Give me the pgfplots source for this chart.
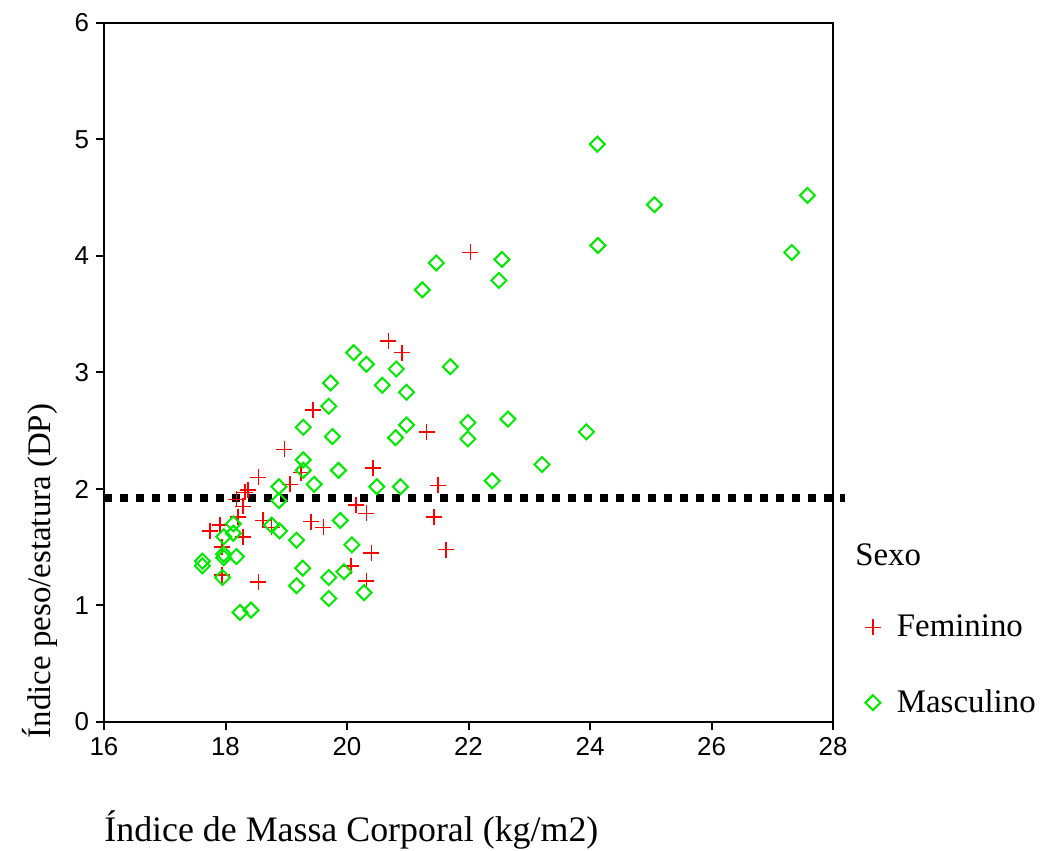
\documentclass[border=0pt]{standalone}
\usepackage{fontspec}
\setmainfont{Liberation Serif}
\newfontfamily\arial{Liberation Sans}
\usepackage{pgfplots}
\pgfplotsset{compat=1.18}
\definecolor{fem}{RGB}{255,0,0}
\definecolor{masc}{RGB}{0,235,0}

\begin{document}
\begin{tikzpicture}
\begin{axis}[
    scale only axis,
    width=364.5bp, height=349.5bp,
    xmin=16, xmax=28, ymin=0, ymax=6,
    xtick={16,18,...,28}, ytick={0,1,...,6},
    tick align=outside, tick pos=left,
    major tick length=4bp,
    axis line style={line width=1bp},
    tick style={line width=1bp, black},
    /pgf/number format/assume math mode=true,
    ticklabel style={font=\arial\fontsize{13}{15}\selectfont},
    xlabel={Índice de Massa Corporal (kg/m2)},
    ylabel={Índice peso/estatura (DP)},
    xlabel style={font=\fontsize{18}{21}\selectfont, at={(axis description cs:0,-0.155)}, anchor=west, inner sep=0pt},
    ylabel style={font=\fontsize{16.5}{20}\selectfont, at={(axis description cs:-0.088,-0.033)}, anchor=west},
    clip=false,
    legend style={draw=none, fill=none, font=\fontsize{16.5}{20}\selectfont,
        at={(axis description cs:1.035,0.081)}, anchor=west, row sep=21bp, column sep=6bp},
    legend cell align=left,
]
\addplot[only marks, mark=+, mark size=4bp, color=fem, line width=0.8bp] coordinates {
(19.44,2.68) (18.97,2.34) (20.43,2.18) (18.54,2.10) (19.24,2.14) (19.06,2.04)
(18.37,1.99) (18.32,1.97) (18.18,1.91) (18.29,1.85) (20.15,1.86) (20.32,1.79)
(18.21,1.76) (17.91,1.69) (17.74,1.64) (18.29,1.59) (18.62,1.73) (18.76,1.67)
(19.41,1.72) (19.61,1.67) (17.94,1.50) (20.40,1.45) (20.07,1.34) (20.32,1.21)
(17.94,1.26) (18.54,1.20) (20.68,3.27) (20.91,3.17) (21.31,2.49) (21.50,2.03)
(21.43,1.76) (21.63,1.48) (22.03,4.03)
};
\addlegendentry{Feminino}
\addplot[only marks, mark=square, mark size=2.65bp, mark options={rotate=45}, color=masc, line width=1bp] coordinates {
(19.70,2.71) (19.28,2.53) (19.76,2.45) (19.28,2.25) (19.28,2.16) (19.86,2.16)
(19.46,2.04) (18.88,2.02) (20.49,2.02) (18.88,1.90) (19.89,1.73) (18.13,1.70)
(17.97,1.59) (18.13,1.62) (18.76,1.69) (18.89,1.64) (19.17,1.56) (20.08,1.52)
(17.97,1.44) (17.97,1.41) (18.18,1.42) (17.62,1.38) (17.62,1.34) (19.27,1.32)
(17.95,1.24) (19.70,1.24) (19.95,1.29) (19.17,1.17) (20.28,1.11) (19.70,1.06)
(18.24,0.94) (18.42,0.96) (20.11,3.17) (20.32,3.07) (20.81,3.03) (21.70,3.05)
(19.73,2.91) (20.58,2.89) (20.98,2.83) (20.98,2.55) (20.80,2.44) (21.99,2.57)
(21.99,2.43) (20.88,2.02) (21.47,3.94) (22.55,3.97) (21.24,3.71) (22.50,3.79)
(24.13,4.09) (22.65,2.60) (23.94,2.49) (23.21,2.21) (22.39,2.07) (24.12,4.96)
(25.06,4.44) (27.58,4.52) (27.32,4.03)
};
\addlegendentry{Masculino}
\addplot[black, line width=4bp, dash pattern=on 4bp off 4bp, forget plot] coordinates {(16,1.92) (28.2,1.92)};
\node[anchor=west, font=\fontsize{16.5}{20}\selectfont, inner sep=0pt] at (axis description cs:1.030,0.239) {Sexo};
\coordinate (bl) at (rel axis cs:0,0);
\coordinate (tr) at (rel axis cs:1,1);
\end{axis}
\pgfresetboundingbox
\path ([shift={(-52bp,-64.5bp)}]bl) rectangle ([shift={(109bp,11.5bp)}]tr);
\end{tikzpicture}
\end{document}
